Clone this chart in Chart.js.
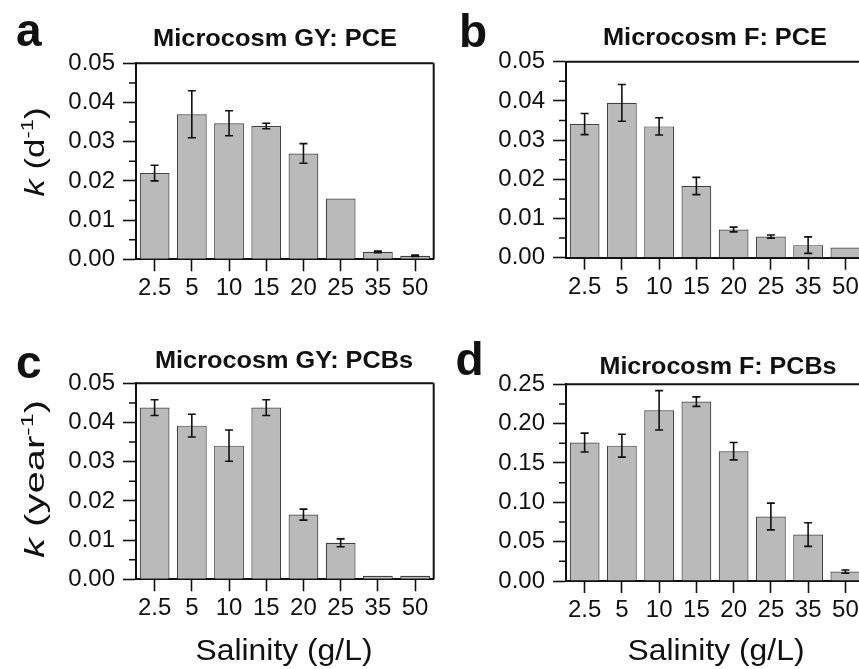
<!DOCTYPE html>
<html>
<head>
<meta charset="utf-8">
<script src="https://cdn.jsdelivr.net/npm/chart.js@4.4.1/dist/chart.umd.min.js"></script>
<style>
  html, body { margin: 0; padding: 0; background: #fff; overflow: hidden; }
  body { width: 859px; height: 669px; position: relative; }
  .panel { position: absolute; }
</style>
</head>
<body>
<div class="panel" style="left:0;top:0;width:440px;height:330px"><canvas id="chartA"></canvas></div>
<div class="panel" style="left:430px;top:0;width:440px;height:330px"><canvas id="chartB"></canvas></div>
<div class="panel" style="left:0;top:330px;width:440px;height:339px"><canvas id="chartC"></canvas></div>
<div class="panel" style="left:430px;top:330px;width:440px;height:339px"><canvas id="chartD"></canvas></div>
<script>
// salinity categories (g/L)
const salinity = ["2.5", "5", "10", "15", "20", "25", "35", "50"];

// k values and +/- errors
const gyPce = [0.022, 0.037, 0.0347, 0.034, 0.027, 0.0155, 0.0019, 0.0009];
const gyPceErr = [0.002, 0.006, 0.0032, 0.0007, 0.0025, 0, 0.0002, 0.0002];
const fPce = [0.0341, 0.0395, 0.0335, 0.0183, 0.0072, 0.0054, 0.0032, 0.0026];
const fPceErr = [0.0027, 0.0047, 0.0022, 0.0022, 0.0006, 0.0004, 0.0021, 0];
const gyPcb = [0.0438, 0.0392, 0.0341, 0.0438, 0.0165, 0.0093, 0.0009, 0.0009];
const gyPcbErr = [0.002, 0.0029, 0.004, 0.002, 0.0014, 0.001, 0, 0];
const fPcb = [0.176, 0.172, 0.217, 0.228, 0.165, 0.082, 0.059, 0.012];
const fPcbErr = [0.012, 0.0145, 0.025, 0.006, 0.011, 0.017, 0.015, 0.002];

// y tick values
const smallTicks = [0, 0.01, 0.02, 0.03, 0.04, 0.05];
const largeTicks = [0, 0.05, 0.1, 0.15, 0.2, 0.25];

const FONT = "'Liberation Sans', Arial, Helvetica, sans-serif";
const INK = "#111";

// draw text centred at cx, squeezed/stretched to a target width
function fitText(ctx, text, cx, cy, font, targetW) {
  ctx.font = font;
  const w = ctx.measureText(text).width;
  ctx.save();
  ctx.translate(cx, cy);
  ctx.scale(targetW / w, 1);
  ctx.textAlign = "center";
  ctx.fillText(text, 0, 0);
  ctx.restore();
}

const errorBars = {
  id: "errorBars",
  afterDatasetsDraw(chart, args, opts) {
    const ctx = chart.ctx;
    const y = chart.scales.y;
    const vals = chart.data.datasets[0].data;
    const meta = chart.getDatasetMeta(0);
    ctx.save();
    ctx.strokeStyle = INK;
    ctx.lineWidth = 1.6;
    meta.data.forEach((bar, i) => {
      const e = opts.errors[i];
      if (!e) return;
      const top = y.getPixelForValue(vals[i] + e);
      const bot = y.getPixelForValue(vals[i] - e);
      ctx.beginPath();
      ctx.moveTo(bar.x, top); ctx.lineTo(bar.x, bot);
      ctx.moveTo(bar.x - 4, top); ctx.lineTo(bar.x + 4, top);
      ctx.moveTo(bar.x - 4, bot); ctx.lineTo(bar.x + 4, bot);
      ctx.stroke();
    });
    ctx.restore();
  }
};

const frame = {
  id: "frame",
  afterDraw(chart) {
    const { ctx, chartArea: a } = chart;
    const y = chart.scales.y;
    ctx.save();
    ctx.strokeStyle = INK;
    ctx.lineWidth = 2;
    ctx.beginPath();
    ctx.moveTo(a.left, a.top); ctx.lineTo(a.right, a.top);
    ctx.moveTo(a.right, a.top); ctx.lineTo(a.right, a.bottom);
    ctx.stroke();
    // minor ticks halfway between the major ones
    ctx.lineWidth = 1.5;
    ctx.beginPath();
    for (let i = 0; i < y.ticks.length - 1; i++) {
      const mid = (y.ticks[i].value + y.ticks[i + 1].value) / 2;
      const py = y.getPixelForValue(mid);
      ctx.moveTo(a.left - 7, py); ctx.lineTo(a.left, py);
    }
    ctx.stroke();
    ctx.restore();
  }
};

const panelText = {
  id: "panelText",
  afterDraw(chart, args, o) {
    const ctx = chart.ctx;
    ctx.save();
    ctx.fillStyle = INK;
    ctx.textBaseline = "alphabetic";

    ctx.font = "bold 46px " + FONT;
    ctx.textAlign = "left";
    ctx.fillText(o.letter, o.letterX, o.letterY);

    fitText(ctx, o.title, o.titleX, o.titleY, "bold 23px " + FONT, o.titleW);

    // rotated y title: italic k, unit and superscript -1
    const parts = [
      { t: "k", f: "italic 27px " + FONT, dy: 0 },
      { t: " (" + o.unit, f: "27px " + FONT, dy: 0 },
      { t: "-1", f: "17px " + FONT, dy: -11 },
      { t: ")", f: "27px " + FONT, dy: 0 }
    ];
    let total = 0;
    parts.forEach(p => { ctx.font = p.f; p.w = ctx.measureText(p.t).width; total += p.w; });
    ctx.translate(o.yTitleX, o.yTitleY);
    ctx.rotate(-Math.PI / 2);
    ctx.scale(o.yTitleLen / total, 1);
    let x = -total / 2;
    ctx.textAlign = "left";
    parts.forEach(p => { ctx.font = p.f; ctx.fillText(p.t, x, p.dy); x += p.w; });
    ctx.restore();

    if (o.xTitle) {
      ctx.save();
      ctx.fillStyle = INK;
      ctx.textBaseline = "alphabetic";
      fitText(ctx, "Salinity (g/L)", o.xTitleX, o.xTitleY, "29px " + FONT, 177);
      ctx.restore();
    }
  }
};

function makePanel(id, values, errors, ticks, pad, xHeight, text) {
  new Chart(document.getElementById(id), {
    type: "bar",
    data: {
      labels: salinity,
      datasets: [{
        data: values,
        backgroundColor: "#bababa",
        borderColor: "#404040",
        borderWidth: 1.2,
        barPercentage: 0.8,
        categoryPercentage: 1
      }]
    },
    options: {
      responsive: true,
      maintainAspectRatio: false,
      animation: false,
      events: [],
      layout: { padding: { top: pad.top, right: pad.right, bottom: 0, left: 0 } },
      plugins: {
        legend: { display: false },
        tooltip: { enabled: false },
        errorBars: { errors: errors },
        panelText: text
      },
      scales: {
        x: {
          z: 1,
          afterFit: s => { s.height = xHeight; },
          grid: { display: true, drawOnChartArea: false, offset: false, tickLength: 12, tickWidth: 1.6, tickColor: INK },
          border: { display: true, color: INK, width: 2 },
          ticks: { color: INK, font: { family: FONT, size: 24 }, padding: 3, maxRotation: 0, autoSkip: false }
        },
        y: {
          z: 1,
          min: ticks[0],
          max: ticks[ticks.length - 1],
          afterFit: s => { s.width = 136; },
          afterBuildTicks: s => { s.ticks = ticks.map(v => ({ value: v })); },
          grid: { display: true, drawOnChartArea: false, tickLength: 13, tickWidth: 1.6, tickColor: INK },
          border: { display: true, color: INK, width: 2 },
          ticks: {
            color: INK,
            font: { family: FONT, size: 24 },
            padding: 8,
            callback: v => Number(v).toFixed(2)
          }
        }
      }
    },
    plugins: [errorBars, frame, panelText]
  });
}

makePanel("chartA", gyPce, gyPceErr, smallTicks, { top: 63.3, right: 6.3 }, 70.7, {
  letter: "a", letterX: 16, letterY: 46,
  title: "Microcosm GY: PCE", titleX: 275, titleY: 46, titleW: 244,
  unit: "d", yTitleX: 44, yTitleY: 152, yTitleLen: 89,
  xTitle: false
});

makePanel("chartB", fPce, fPceErr, smallTicks, { top: 61.7, right: 6 }, 72.3, {
  letter: "b", letterX: 29, letterY: 47,
  title: "Microcosm F: PCE", titleX: 285, titleY: 45, titleW: 224,
  unit: "", yTitleX: -1000, yTitleY: -1000, yTitleLen: 1,
  xTitle: false
});

makePanel("chartC", gyPcb, gyPcbErr, smallTicks, { top: 53.3, right: 6.3 }, 89.7, {
  letter: "c", letterX: 16, letterY: 48,
  title: "Microcosm GY: PCBs", titleX: 284, titleY: 38, titleW: 258,
  unit: "year", yTitleX: 44, yTitleY: 149, yTitleLen: 158,
  xTitle: true, xTitleX: 284, xTitleY: 330
});

makePanel("chartD", fPcb, fPcbErr, largeTicks, { top: 54.3, right: 6 }, 88, {
  letter: "d", letterX: 25.5, letterY: 45,
  title: "Microcosm F: PCBs", titleX: 288, titleY: 44, titleW: 237,
  unit: "", yTitleX: -1000, yTitleY: -1000, yTitleLen: 1,
  xTitle: true, xTitleX: 286, xTitleY: 330
});
</script>
</body>
</html>
